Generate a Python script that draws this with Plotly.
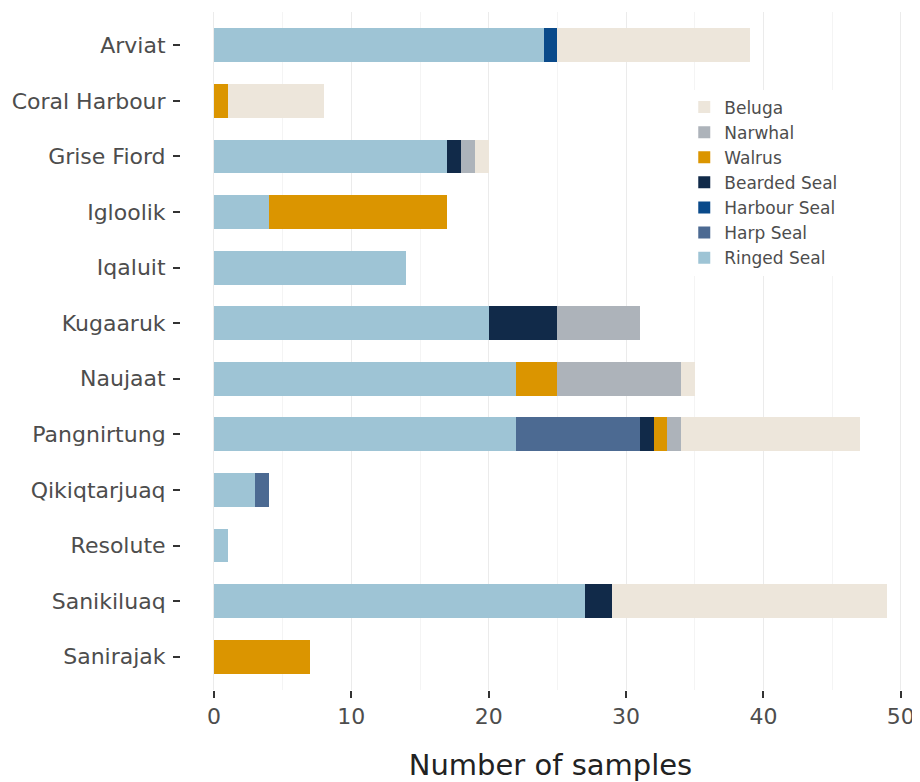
import plotly.graph_objects as go

communities = ["Arviat", "Coral Harbour", "Grise Fiord", "Igloolik", "Iqaluit", "Kugaaruk",
               "Naujaat", "Pangnirtung", "Qikiqtarjuaq", "Resolute", "Sanikiluaq", "Sanirajak"]

ringed_seal = [24, 0, 17, 4, 14, 20, 22, 22, 3, 1, 27, 0]
harp_seal = [0, 0, 0, 0, 0, 0, 0, 9, 1, 0, 0, 0]
harbour_seal = [1, 0, 0, 0, 0, 0, 0, 0, 0, 0, 0, 0]
bearded_seal = [0, 0, 1, 0, 0, 5, 0, 1, 0, 0, 2, 0]
walrus = [0, 1, 0, 13, 0, 0, 3, 1, 0, 0, 0, 7]
narwhal = [0, 0, 1, 0, 0, 6, 9, 1, 0, 0, 0, 0]
beluga = [14, 7, 1, 0, 0, 0, 1, 13, 0, 0, 20, 0]

species = ["Ringed Seal", "Harp Seal", "Harbour Seal", "Bearded Seal", "Walrus", "Narwhal", "Beluga"]
values = [ringed_seal, harp_seal, harbour_seal, bearded_seal, walrus, narwhal, beluga]
colors = ["#9EC4D5", "#4C6A92", "#0A4A8A", "#112A49", "#DB9500", "#ADB3BA", "#EDE6DB"]

x_ticks = [0, 10, 20, 30, 40, 50]

FONT = "DejaVu Sans, Liberation Sans, Arial, sans-serif"

fig = go.Figure()
for name, vals, col in zip(species, values, colors):
    fig.add_trace(go.Bar(
        y=communities, x=vals, name=name, orientation="h",
        marker=dict(color=col, line=dict(width=0)), width=0.61,
    ))

fig.update_layout(
    barmode="stack",
    width=912, height=774,
    margin=dict(l=173, r=0, t=4, b=92, autoexpand=False),
    plot_bgcolor="white", paper_bgcolor="white",
    font=dict(family=FONT, color="#4D4D4D", size=18),
    legend=dict(
        traceorder="reversed", x=0.681, y=0.7485, xanchor="left", yanchor="middle",
        bgcolor="white", font=dict(size=17, color="#4D4D4D", family=FONT),
        itemwidth=30, tracegroupgap=0,
    ),
    xaxis=dict(
        range=[-2.4, 51.4], tickvals=x_ticks, ticks="outside", ticklen=7, tickwidth=1.6,
        tickcolor="#333333", showgrid=True, gridcolor="#EBEBEB", gridwidth=1,
        minor=dict(dtick=5, tick0=0, showgrid=True, gridcolor="#F4F4F4", gridwidth=0.8),
        zeroline=False, showline=False, automargin=False,
        tickfont=dict(size=22, color="#4D4D4D", family=FONT),
        title=dict(text="Number of samples", font=dict(size=29, color="#222222", family=FONT), standoff=30),
    ),
    yaxis=dict(
        categoryorder="array", categoryarray=communities, range=[11.6, -0.6],
        ticks="outside", ticklen=7, tickwidth=1.6, tickcolor="#333333",
        showgrid=False, zeroline=False, showline=False, automargin=False,
        ticklabelstandoff=3,
        tickfont=dict(size=22, color="#4D4D4D", family=FONT),
    ),
)

fig.write_html("out.html")
